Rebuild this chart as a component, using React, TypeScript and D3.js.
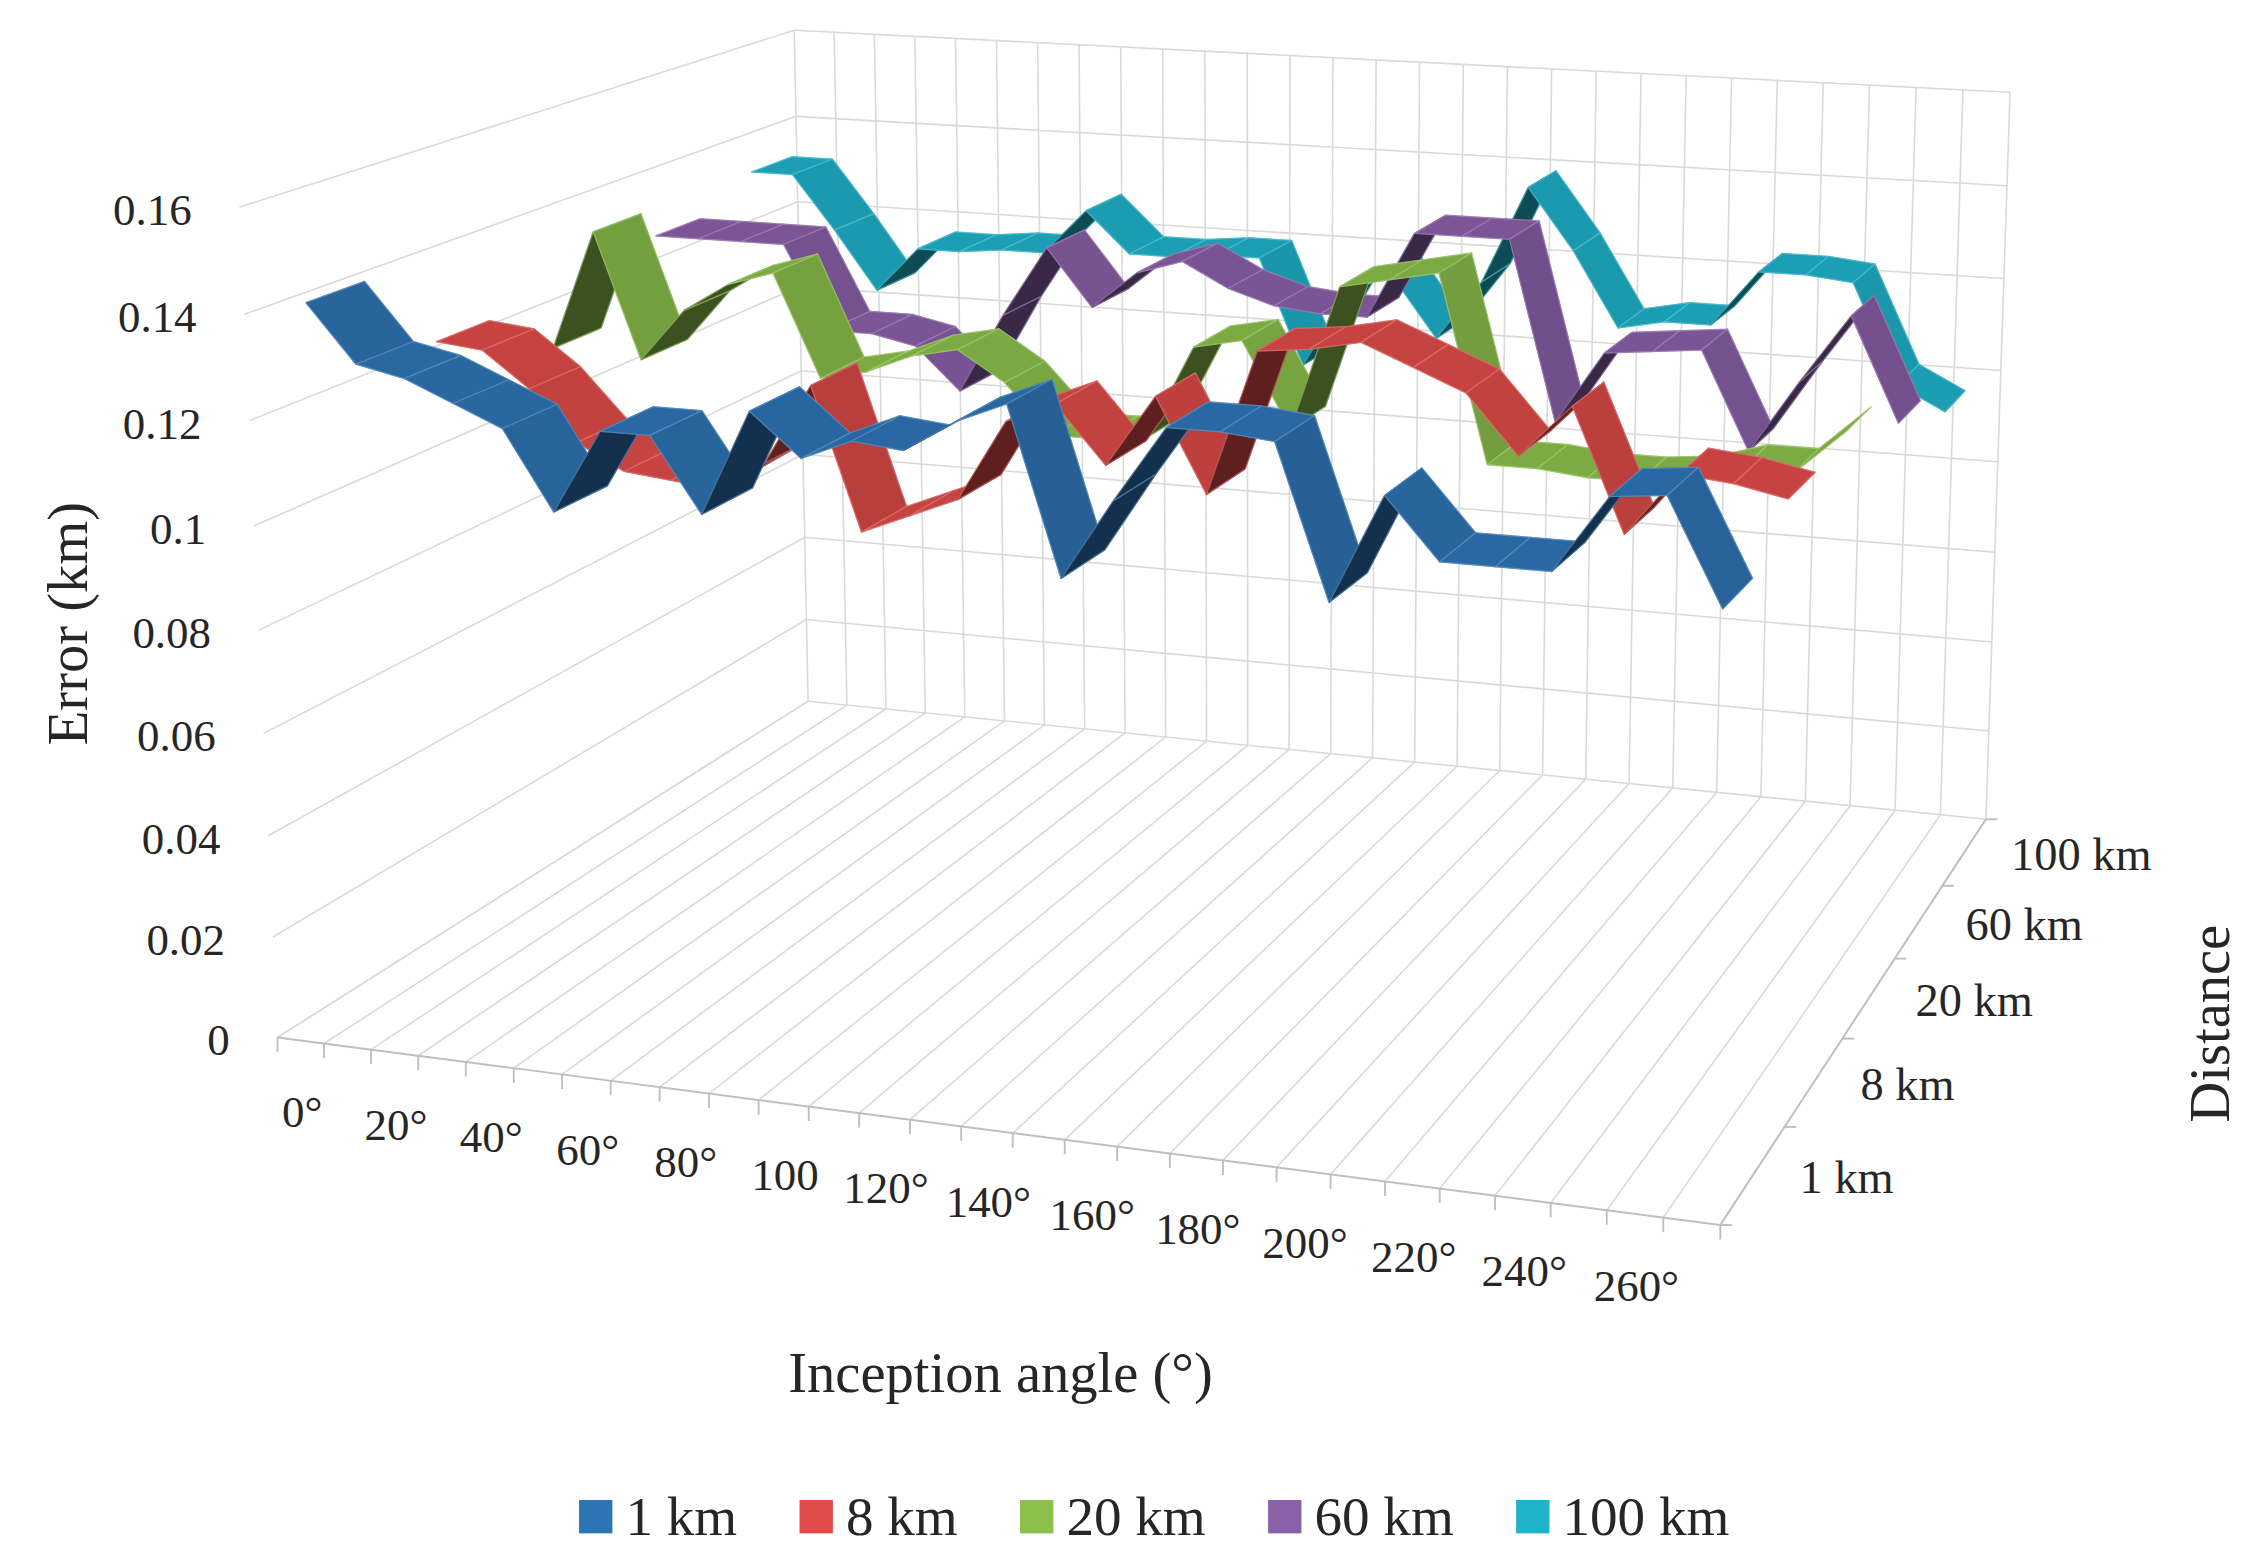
import * as d3 from 'd3';

// inception angle categories (10° steps), only every other one is labelled
const angles = [0, 10, 20, 30, 40, 50, 60, 70, 80, 90, 100, 110, 120, 130, 140, 150, 160, 170, 180, 190, 200, 210, 220, 230, 240, 250, 260, 270];
const angleLabels = ['0°', '', '20°', '', '40°', '', '60°', '', '80°', '', '100', '', '120°', '', '140°', '', '160°', '', '180°', '', '200°', '', '220°', '', '240°', '', '260°', ''];

const distances = ['1 km', '8 km', '20 km', '60 km', '100 km'];

const errorTicks = [0, 0.02, 0.04, 0.06, 0.08, 0.1, 0.12, 0.14, 0.16];
const errorTickLabels = ['0', '0.02', '0.04', '0.06', '0.08', '0.1', '0.12', '0.14', '0.16'];

// error (km) per inception angle, one array per fault distance
const error1km = [0.140, 0.129, 0.127, 0.123, 0.119, 0.104, 0.120, 0.120, 0.106, 0.126, 0.118, 0.122, 0.121, 0.127, 0.131, 0.100, 0.115, 0.129, 0.129, 0.128, 0.100, 0.120, 0.109, 0.109, 0.109, 0.123, 0.124, 0.105];
const error8km = [0.123, 0.122, 0.115, 0.105, 0.100, 0.099, 0.098, 0.104, 0.120, 0.092, 0.096, 0.100, 0.116, 0.120, 0.109, 0.123, 0.105, 0.133, 0.134, 0.136, 0.132, 0.128, 0.117, 0.127, 0.104, 0.116, 0.115, 0.113];
const error20km = [0.112, 0.137, 0.111, 0.122, 0.128, 0.131, 0.110, 0.112, 0.116, 0.118, 0.112, 0.102, 0.102, 0.103, 0.122, 0.124, 0.107, 0.136, 0.138, 0.140, 0.103, 0.103, 0.102, 0.102, 0.103, 0.106, 0.106, 0.115];
const error60km = [0.127, 0.127, 0.127, 0.127, 0.109, 0.109, 0.107, 0.098, 0.115, 0.130, 0.118, 0.126, 0.129, 0.124, 0.121, 0.120, 0.120, 0.138, 0.138, 0.138, 0.101, 0.116, 0.117, 0.118, 0.098, 0.113, 0.127, 0.106];
const error100km = [0.133, 0.133, 0.121, 0.108, 0.118, 0.118, 0.119, 0.119, 0.129, 0.120, 0.120, 0.121, 0.121, 0.098, 0.115, 0.119, 0.106, 0.119, 0.140, 0.127, 0.111, 0.113, 0.113, 0.125, 0.125, 0.124, 0.103, 0.098];

const seriesValues = [error1km, error8km, error20km, error60km, error100km];
const seriesColors = ['#2e75b6', '#e04c49', '#8cc04b', '#8a60a9', '#1fb3cb'];

const W = 1560;
const H = 1080;
const FONT = "'Liberation Serif', 'DejaVu Serif', serif";
const TEXT = '#262626';
const GRID = '#d9d9d9';
const AXIS = '#bfbfbf';

// where the plot box corners land on screen: [category edge, error, depth edge] -> [x, y]
const frameAnchors: [number, number, number, number, number][] = [
  [0, 0, 0, 194, 717],
  [7, 0, 0, 422, 746.4],
  [14, 0, 0, 661, 777.2],
  [21, 0, 0, 917, 810.1],
  [28, 0, 0, 1187, 844.9],
  [28, 0, 1, 1231, 778],
  [28, 0, 2, 1270, 716],
  [28, 0, 3, 1305, 661],
  [28, 0, 4, 1339, 610],
  [28, 0, 5, 1372, 564],
  [0, 0, 5, 556, 484],
  [0, 0.08, 5, 552, 254],
  [0, 0.16, 5, 548, 22],
  [9, 0.16, 5, 802, 34.7],
  [18, 0.16, 5, 1071, 48.2],
  [28, 0.16, 5, 1386, 64],
  [0, 0.16, 0, 164, 141],
  [0, 0.08, 0, 179, 433],
];

const yUnits = d3.scaleLinear().domain([0, 0.16]).range([0, 8]);

function solve(a: number[][], b: number[]) {
  const n = b.length;
  const m = a.map((row, i) => [...row, b[i]]);
  for (let c = 0; c < n; c++) {
    let p = c;
    for (let r = c + 1; r < n; r++) if (Math.abs(m[r][c]) > Math.abs(m[p][c])) p = r;
    [m[c], m[p]] = [m[p], m[c]];
    for (let r = 0; r < n; r++) {
      if (r === c) continue;
      const f = m[r][c] / m[c][c];
      for (let k = c; k <= n; k++) m[r][k] -= f * m[c][k];
    }
  }
  return m.map((row, i) => row[n] / row[i]);
}

// least squares perspective camera (DLT) fitted to the frame anchors
function fitCamera() {
  const n = 11;
  const ata = Array.from({ length: n }, () => new Array(n).fill(0));
  const atb = new Array(n).fill(0);
  for (const [x, e, z, u0, v0] of frameAnchors) {
    const X = x, Y = yUnits(e), Z = z;
    const u = (u0 - W / 2) / (W / 2);
    const v = (v0 - H / 2) / (W / 2);
    const rows: [number[], number][] = [
      [[X, Y, Z, 1, 0, 0, 0, 0, -u * X, -u * Y, -u * Z], u],
      [[0, 0, 0, 0, X, Y, Z, 1, -v * X, -v * Y, -v * Z], v],
    ];
    for (const [r, b] of rows) {
      for (let i = 0; i < n; i++) {
        atb[i] += r[i] * b;
        for (let j = 0; j < n; j++) ata[i][j] += r[i] * r[j];
      }
    }
  }
  const m = solve(ata, atb);
  return (X: number, Y: number, Z: number): [number, number] => {
    const w = m[8] * X + m[9] * Y + m[10] * Z + 1;
    const u = (m[0] * X + m[1] * Y + m[2] * Z + m[3]) / w;
    const v = (m[4] * X + m[5] * Y + m[6] * Z + m[7]) / w;
    return [u * (W / 2) + W / 2, v * (W / 2) + H / 2];
  };
}

const mix = (c: string, to: string, t: number) => d3.interpolateRgb(c, to)(t);

function legendWidth(label: string, size: number) {
  const em: Record<string, number> = { ' ': 0.25, k: 0.5, m: 0.778 };
  return d3.sum(label.split(''), (ch) => em[ch] ?? 0.5) * size;
}

export default function App() {
  const P = fitCamera();
  const nx = angles.length;
  const nz = distances.length;
  const yTop = yUnits(errorTicks[errorTicks.length - 1]);

  const xBand = d3.scaleBand<number>().domain(angles).range([0, nx]);
  const zBand = d3.scaleBand<string>().domain(distances).range([0, nz]);

  const line = (a: [number, number], b: [number, number]) => `M${a[0]},${a[1]}L${b[0]},${b[1]}`;

  // walls and floor grid
  const grid: string[] = [];
  errorTicks.forEach((t) => {
    grid.push(line(P(0, yUnits(t), nz), P(nx, yUnits(t), nz)));
    grid.push(line(P(0, yUnits(t), 0), P(0, yUnits(t), nz)));
  });
  d3.range(nx + 1).forEach((k) => {
    grid.push(line(P(k, 0, nz), P(k, yTop, nz)));
    grid.push(line(P(k, 0, 0), P(k, 0, nz)));
  });

  const axisPaths: string[] = [line(P(0, 0, 0), P(nx, 0, 0)), line(P(nx, 0, 0), P(nx, 0, nz))];
  d3.range(nx + 1).forEach((k) => {
    const [u, v] = P(k, 0, 0);
    axisPaths.push(`M${u},${v}L${u},${v + 10}`);
  });
  d3.range(nz + 1).forEach((k) => {
    const [u, v] = P(nx, 0, k);
    axisPaths.push(`M${u},${v}L${u + 8},${v}`);
  });

  // ribbons, drawn back to front, left to right
  const ribbonDepth = 0.45;
  const faces: { d: string; fill: string; edge: string; key: string }[] = [];
  distances
    .map((d, si) => ({ d, si }))
    .reverse()
    .forEach(({ d, si }) => {
      const vals = seriesValues[si];
      const base = seriesColors[si];
      const z0 = zBand(d)! + (zBand.bandwidth() - ribbonDepth) / 2;
      const z1 = z0 + ribbonDepth;
      const pts = angles.map((a, i) => ({ x: xBand(a)! + xBand.bandwidth() / 2, y: yUnits(vals[i]) }));
      for (let i = 0; i < pts.length - 1; i++) {
        const p = pts[i], q = pts[i + 1];
        const A = P(p.x, p.y, z0), B = P(q.x, q.y, z0), C = P(q.x, q.y, z1), D = P(p.x, p.y, z1);
        const cross = (B[0] - A[0]) * (D[1] - A[1]) - (B[1] - A[1]) * (D[0] - A[0]);
        const slope = Math.min(1, Math.abs(q.y - p.y) / 1.5);
        const fill = cross < 0 ? mix(base, '#000', 0.11 + 0.07 * slope) : mix(base, '#000', 0.58);
        faces.push({
          key: `${si}-${i}`,
          d: `M${A[0]},${A[1]}L${B[0]},${B[1]}L${C[0]},${C[1]}L${D[0]},${D[1]}Z`,
          fill,
          edge: mix(base, '#fff', 0.3),
        });
      }
    });

  // legend layout
  const legendSize = 38;
  const sq = 23;
  const itemGap = 43;
  const widths = distances.map((d) => sq + 9 + legendWidth(d, legendSize));
  const total = d3.sum(widths) + itemGap * (distances.length - 1);
  let lx = 796 - total / 2;
  const legendItems = distances.map((d, i) => {
    const item = { d, x: lx, color: seriesColors[i] };
    lx += widths[i] + itemGap;
    return item;
  });
  const legendY = 1046;

  return (
    <svg
      width={2262}
      height={1566}
      viewBox={`0 0 ${W} ${H}`}
      style={{ position: 'absolute', left: 0, top: 0, display: 'block', background: '#fff' }}
      fontFamily={FONT}
    >
      <rect width={W} height={H} fill="#fff" />
      <g stroke={GRID} strokeWidth={1.1} fill="none">
        {grid.map((d, i) => (
          <path key={i} d={d} />
        ))}
      </g>
      <g stroke={AXIS} strokeWidth={1.3} fill="none">
        {axisPaths.map((d, i) => (
          <path key={i} d={d} />
        ))}
      </g>

      <g strokeLinejoin="round">
        {faces.map((f) => (
          <g key={f.key}>
            <path d={f.d} fill={f.fill} stroke={f.fill} strokeWidth={0.6} />
            <path d={f.d} fill="none" stroke={f.edge} strokeWidth={0.9} strokeOpacity={0.55} />
          </g>
        ))}
      </g>

      <g fill={TEXT} fontSize={31}>
        {errorTicks.map((t, i) => {
          const [u, v] = P(0, yUnits(t), 0);
          return (
            <text key={t} x={u - 33} y={v + 2} textAnchor="end" dominantBaseline="central">
              {errorTickLabels[i]}
            </text>
          );
        })}
        {angles.map((a, i) => {
          if (!angleLabels[i]) return null;
          const [u, v] = P(xBand(a)! + xBand.bandwidth() / 2, 0, 0);
          return (
            <text key={a} x={u + 1} y={v + 60} textAnchor="middle">
              {angleLabels[i]}
            </text>
          );
        })}
      </g>
      <g fill={TEXT} fontSize={32}>
        {distances.map((d) => {
          const [u, v] = P(nx, 0, zBand(d)! + zBand.bandwidth() / 2);
          return (
            <text key={d} x={u + 32} y={v + 2} dominantBaseline="central">
              {d}
            </text>
          );
        })}
      </g>

      <g fill={TEXT} fontSize={39}>
        <text transform="translate(47,430) rotate(-90)" textAnchor="middle" dominantBaseline="central">
          Error (km)
        </text>
        <text x={690} y={960} textAnchor="middle">
          Inception angle (°)
        </text>
        <text transform="translate(1524,706) rotate(-90)" textAnchor="middle" dominantBaseline="central">
          Distance
        </text>
      </g>

      <g fontSize={legendSize} fill={TEXT}>
        {legendItems.map((it) => (
          <g key={it.d}>
            <rect x={it.x} y={legendY - sq / 2} width={sq} height={sq} fill={it.color} />
            <text x={it.x + sq + 9} y={legendY} dominantBaseline="central">
              {it.d}
            </text>
          </g>
        ))}
      </g>
    </svg>
  );
}
